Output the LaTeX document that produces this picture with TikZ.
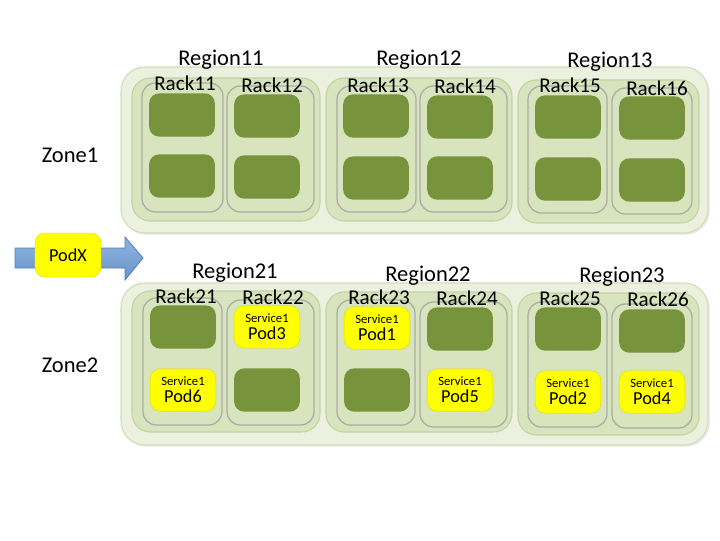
\documentclass[tikz,border=0pt]{standalone}
\usepackage{fontspec}
\setmainfont{Carlito}
\usepackage{tikz}
\usetikzlibrary{shadows}

\definecolor{zonefill}{HTML}{EBF1DE}
\definecolor{zoneline}{HTML}{D3DEBB}
\definecolor{regionfill}{HTML}{D7E4BD}
\definecolor{regionline}{HTML}{C3D3A4}
\definecolor{rackline}{HTML}{ABADA5}
\definecolor{podgreen}{HTML}{77933C}
\definecolor{podyellow}{HTML}{FFFF00}
\definecolor{arrowblue}{HTML}{4F81BD}
\definecolor{arrowlight}{HTML}{8DB4E2}

\tikzset{
  zone/.style={fill=zonefill, draw=zoneline, line width=0.8pt, rounded corners=17pt,
    drop shadow={opacity=0.18, shadow xshift=1.2pt, shadow yshift=-1.2pt}},
  region/.style={fill=regionfill, draw=regionline, line width=0.8pt, rounded corners=13pt},
  rack/.style={fill=regionfill, draw=rackline, line width=0.9pt, rounded corners=9.5pt},
  pod/.style={fill=podgreen, rounded corners=7pt, minimum width=1.64cm, minimum height=1.08cm, inner sep=0pt},
  svc/.style={fill=podyellow, draw=podyellow!85!black, line width=0.3pt, rounded corners=7pt,
    minimum width=1.64cm, minimum height=1.06cm, inner sep=0pt, align=center,
    font=\fontsize{13}{11}\selectfont},
  regionlabel/.style={font=\fontsize{16}{18}\selectfont},
  racklabel/.style={font=\fontsize{15}{17}\selectfont},
  zonelabel/.style={font=\fontsize{16}{18}\selectfont}
}
\newcommand{\svctext}[1]{{\fontsize{9}{9}\selectfont Service1}\\[1pt]#1}

\begin{document}
\begin{tikzpicture}[x=0.025cm,y=-0.025cm]
      \useasboundingbox[fill=white] (0,0) rectangle (720,540);

      % zones
      \draw[zone] (121,67) rectangle (708,233);
      \draw[zone] (121,283) rectangle (708,445);
      \node[zonelabel] (zone1) at (70,155) {Zone1};
      \node[zonelabel] (zone2) at (70,365) {Zone2};

      % zone 1 regions and racks
      \draw[region] (132,78) rectangle (320,221);
      \draw[region] (326,78) rectangle (512,221);
      \draw[region] (518,80) rectangle (699,223);
      \draw[rack] (142,83) rectangle (223,212);
      \draw[rack] (227,86) rectangle (314,212);
      \draw[rack] (337,86) rectangle (416,212);
      \draw[rack] (420,86) rectangle (507,212);
      \draw[rack] (528,86) rectangle (607,213);
      \draw[rack] (612,88) rectangle (692,214);

      \node[pod] (p11a) at (182,115) {};
      \node[pod] (p11b) at (182,176) {};
      \node[pod] (p12a) at (267,116) {};
      \node[pod] (p12b) at (267,177) {};
      \node[pod] (p13a) at (376,116) {};
      \node[pod] (p13b) at (376,178) {};
      \node[pod] (p14a) at (460,117) {};
      \node[pod] (p14b) at (460,178) {};
      \node[pod] (p15a) at (568,117) {};
      \node[pod] (p15b) at (568,179) {};
      \node[pod] (p16a) at (652,118) {};
      \node[pod] (p16b) at (652,180) {};

      \node[regionlabel] (region11) at (221,60) {Region11};
      \node[regionlabel] (region12) at (419,60) {Region12};
      \node[regionlabel] (region13) at (610,62) {Region13};
      \node[racklabel] (rack11) at (185,83) {Rack11};
      \node[racklabel] (rack12) at (272,85) {Rack12};
      \node[racklabel] (rack13) at (378,85) {Rack13};
      \node[racklabel] (rack14) at (465,86) {Rack14};
      \node[racklabel] (rack15) at (570,85) {Rack15};
      \node[racklabel] (rack16) at (657,88) {Rack16};

      % zone 2 regions and racks
      \draw[region] (132,291) rectangle (320,432);
      \draw[region] (326,292) rectangle (512,432);
      \draw[region] (518,293) rectangle (699,435);
      \draw[rack] (143,298) rectangle (222,425);
      \draw[rack] (227,300) rectangle (314,425);
      \draw[rack] (337,300) rectangle (415,425);
      \draw[rack] (420,302) rectangle (507,427);
      \draw[rack] (528,302) rectangle (607,427);
      \draw[rack] (612,304) rectangle (692,428);

      \node[pod] (p21a) at (183,327) {};
      \node[svc] (pod6) at (183,390) {\svctext{Pod6}};
      \node[svc] (pod3) at (267,327) {\svctext{Pod3}};
      \node[pod] (p22b) at (267,390) {};
      \node[svc] (pod1) at (377,328) {\svctext{Pod1}};
      \node[pod] (p23b) at (377,390) {};
      \node[pod] (p24a) at (460,329) {};
      \node[svc] (pod5) at (460,390) {\svctext{Pod5}};
      \node[pod] (p25a) at (568,329) {};
      \node[svc] (pod2) at (568,392) {\svctext{Pod2}};
      \node[pod] (p26a) at (652,331) {};
      \node[svc] (pod4) at (652,392) {\svctext{Pod4}};

      \node[regionlabel] (region21) at (235,273) {Region21};
      \node[regionlabel] (region22) at (428,276) {Region22};
      \node[regionlabel] (region23) at (622,277) {Region23};
      \node[racklabel] (rack21) at (186,296) {Rack21};
      \node[racklabel] (rack22) at (273,297) {Rack22};
      \node[racklabel] (rack23) at (379,297) {Rack23};
      \node[racklabel] (rack24) at (467,298) {Rack24};
      \node[racklabel] (rack25) at (570,298) {Rack25};
      \node[racklabel] (rack26) at (658,299) {Rack26};

      % incoming pod
      \draw[draw=arrowblue, line width=0.6pt, top color=arrowlight, bottom color=arrowblue!85]
        (15,248) -- (125,248) -- (125,237) -- (143,258) -- (125,280) -- (125,268) -- (15,268) -- cycle;
      \node[svc, minimum width=1.65cm, minimum height=1.1cm] (podx) at (68,255) {PodX};
\end{tikzpicture}
\end{document}
